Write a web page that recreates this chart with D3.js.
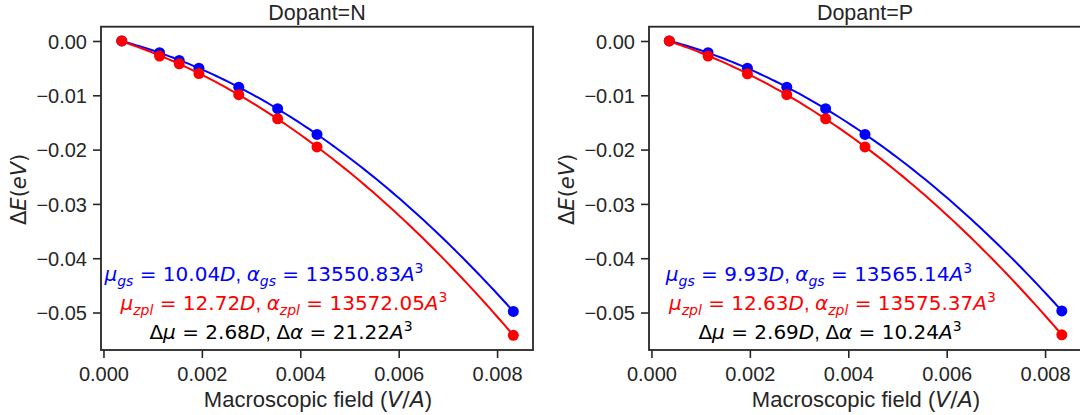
<!DOCTYPE html>
<html><head><meta charset="utf-8">
<script src="https://cdn.jsdelivr.net/npm/d3@7"></script>
<style>
html,body{margin:0;padding:0;background:#fff;}
text{fill:#262626;}
</style>
</head><body>
<svg id="chart" width="1080" height="415"></svg>
<script>
// ---- data ----
const panelTitles = ["Dopant=N", "Dopant=P"];
const fieldN = [0.000372, 0.00114, 0.00154, 0.00194, 0.00275, 0.00354, 0.00434, 0.00833];
const gsN    = [0, -0.00216, -0.00358, -0.0050, -0.00852, -0.01247, -0.0172, -0.0498];
const zplN   = [0, -0.00278, -0.0042, -0.0060, -0.00988, -0.01432, -0.0195, -0.0542];
const fieldP = [0.000362, 0.00115, 0.00195, 0.00275, 0.00354, 0.00434, 0.00834];
const gsP    = [0, -0.00216, -0.0050, -0.00852, -0.01247, -0.0172, -0.0497];
const zplP   = [0, -0.00278, -0.00605, -0.00988, -0.01432, -0.0195, -0.0541];
const xTicks = [0, 0.002, 0.004, 0.006, 0.008];
const yTicks = [0, -0.01, -0.02, -0.03, -0.04, -0.05];
const muGs   = ["10.04", "9.93"];
const alGs   = ["13550.83", "13565.14"];
const muZpl  = ["12.72", "12.63"];
const alZpl  = ["13572.05", "13575.37"];
const dMu    = ["2.68", "2.69"];
const dAl    = ["21.22", "10.24"];

const panels = [
  {field: fieldN, gs: gsN, zpl: zplN},
  {field: fieldP, gs: gsP, zpl: zplP}
];

// least-squares quadratic fit of a data series (the reference lines are fits)
function quadFit(xs, ys) {
  const s = k => d3.sum(xs, v => Math.pow(v, k));
  const t = k => d3.sum(xs, (v, j) => Math.pow(v, k) * ys[j]);
  const A = [[s(0), s(1), s(2)], [s(1), s(2), s(3)], [s(2), s(3), s(4)]];
  const B = [t(0), t(1), t(2)];
  // Cramer's rule
  const det = M => M[0][0]*(M[1][1]*M[2][2]-M[1][2]*M[2][1]) - M[0][1]*(M[1][0]*M[2][2]-M[1][2]*M[2][0]) + M[0][2]*(M[1][0]*M[2][1]-M[1][1]*M[2][0]);
  const D = det(A);
  const coef = [0, 1, 2].map(c => det(A.map((row, r) => row.map((v, cc) => cc === c ? B[r] : v))) / D);
  return f => coef[0] + coef[1] * f + coef[2] * f * f;
}

const svg = d3.select("#chart");
const W = 432, axTop = 26.7, axBottom = 350;
const lefts = [101, 649];
const textC = "#262626";
const sans = "'Liberation Sans', Arial, sans-serif";
const math = "'DejaVu Sans', sans-serif";

panels.forEach((p, i) => {
  const L = lefts[i];
  const x = d3.scaleLinear().domain([-0.00005, 0.00873]).range([L, L + W]);
  const y = d3.scaleLinear().domain([-0.0569, 0.00263]).range([axBottom, axTop]);
  const g = svg.append("g");

  // axes
  const xa = g.append("g").attr("transform", `translate(0,${axBottom})`)
    .call(d3.axisBottom(x).tickValues(xTicks).tickFormat(d3.format(".3f")).tickSize(8).tickPadding(6));
  const ya = g.append("g").attr("transform", `translate(${L},0)`)
    .call(d3.axisLeft(y).tickValues(yTicks).tickFormat(d => d3.format(".2f")(d).replace("-", "\u2212")).tickSize(8).tickPadding(6));
  [xa, ya].forEach(a => {
    a.select(".domain").remove();
    a.selectAll(".tick line").attr("stroke", textC).attr("stroke-width", 1.6);
    a.selectAll(".tick text").attr("font-family", sans).attr("font-size", 20).attr("fill", textC);
  });
  xa.selectAll(".tick text").attr("dy", "0.85em");
  ya.selectAll(".tick text").attr("dy", "0.36em");

  // frame
  g.append("rect").attr("x", L).attr("y", axTop).attr("width", W).attr("height", axBottom - axTop)
    .attr("fill", "none").attr("stroke", textC).attr("stroke-width", 1.8);

  // title
  g.append("text").attr("x", L + W / 2).attr("y", 19.5).attr("text-anchor", "middle")
    .attr("font-family", sans).attr("font-size", 21.5).attr("fill", textC).text(panelTitles[i]);

  // x label
  const xl = g.append("text").attr("x", L + W / 2 + 1).attr("y", 406.5).attr("text-anchor", "middle")
    .attr("font-family", sans).attr("font-size", 22).attr("fill", textC);
  xl.append("tspan").text("Macroscopic field (");
  xl.append("tspan").attr("font-family", math).attr("font-style", "italic").text("V");
  xl.append("tspan").attr("font-family", math).text("/");
  xl.append("tspan").attr("font-family", math).attr("font-style", "italic").text("A");
  xl.append("tspan").text(")");

  // y label
  const yl = g.append("text").attr("transform", `translate(${L - 75},${(axTop + axBottom) / 2 + 1}) rotate(-90)`)
    .attr("text-anchor", "middle").attr("font-family", math).attr("font-size", 21).attr("fill", textC);
  yl.append("tspan").text("\u0394");
  yl.append("tspan").attr("font-style", "italic").text("E");
  yl.append("tspan").text("(");
  yl.append("tspan").attr("font-style", "italic").text("eV");
  yl.append("tspan").text(")");

  // fitted curves + points
  const series = [{v: p.gs, c: "#0000ff"}, {v: p.zpl, c: "#ff0000"}];
  const line = d3.line().x(d => x(d[0])).y(d => y(d[1]));
  const [f0, f1] = d3.extent(p.field);
  series.forEach(s => {
    const fit = quadFit(p.field, s.v);
    const curve = d3.range(0, 101).map(k => { const f = f0 + (f1 - f0) * k / 100; return [f, fit(f)]; });
    g.append("path").datum(curve).attr("d", line).attr("fill", "none")
      .attr("stroke", s.c).attr("stroke-width", 2);
    const pts = p.field.map((f, k) => [f, s.v[k]]);
    g.selectAll(null).data(pts).enter().append("circle")
      .attr("cx", d => x(d[0])).attr("cy", d => y(d[1])).attr("r", 5.5).attr("fill", s.c);
  });

  // annotations
  function mathLine(cx, by, color, parts) {
    const t = g.append("text").attr("x", cx).attr("y", by).attr("text-anchor", "middle")
      .attr("font-family", math).attr("font-size", 20).attr("fill", color).style("fill", color);
    parts.forEach(pt => {
      const ts = t.append("tspan").text(pt.t);
      if (pt.i) ts.attr("font-style", "italic");
      if (pt.sub) ts.attr("font-size", 14).attr("dy", 5);
      if (pt.sup) ts.attr("font-size", 14).attr("dy", -8);
      if (pt.back) ts.attr("dy", pt.back);
      if (pt.f) ts.attr("font-family", pt.f);
    });
    return t;
  }
  const bc = [264, 271][i], rc = [284, 284.4][i], kc = [281, 282][i];
  mathLine(L - 101 + bc, 281, "#0000ff", [
    {t: "\u03bc", i: 1}, {t: "gs", i: 1, sub: 1}, {t: " = " + muGs[i], back: -5}, {t: "D", i: 1},
    {t: ", ", f: sans}, {t: "\u03b1", i: 1}, {t: "gs", i: 1, sub: 1}, {t: " = " + alGs[i], back: -5},
    {t: "A", i: 1}, {t: "3", sup: 1}
  ]);
  mathLine(L - 101 + rc, 310, "#ff0000", [
    {t: "\u03bc", i: 1}, {t: "zpl", i: 1, sub: 1}, {t: " = " + muZpl[i], back: -5}, {t: "D", i: 1},
    {t: ", ", f: sans}, {t: "\u03b1", i: 1}, {t: "zpl", i: 1, sub: 1}, {t: " = " + alZpl[i], back: -5},
    {t: "A", i: 1}, {t: "3", sup: 1}
  ]);
  mathLine(L - 101 + kc, 339, "#000000", [
    {t: "\u0394"}, {t: "\u03bc", i: 1}, {t: " = " + dMu[i]}, {t: "D", i: 1},
    {t: ", ", f: sans}, {t: "\u0394"}, {t: "\u03b1", i: 1}, {t: " = " + dAl[i]},
    {t: "A", i: 1}, {t: "3", sup: 1}
  ]);
});
</script>
</body></html>
